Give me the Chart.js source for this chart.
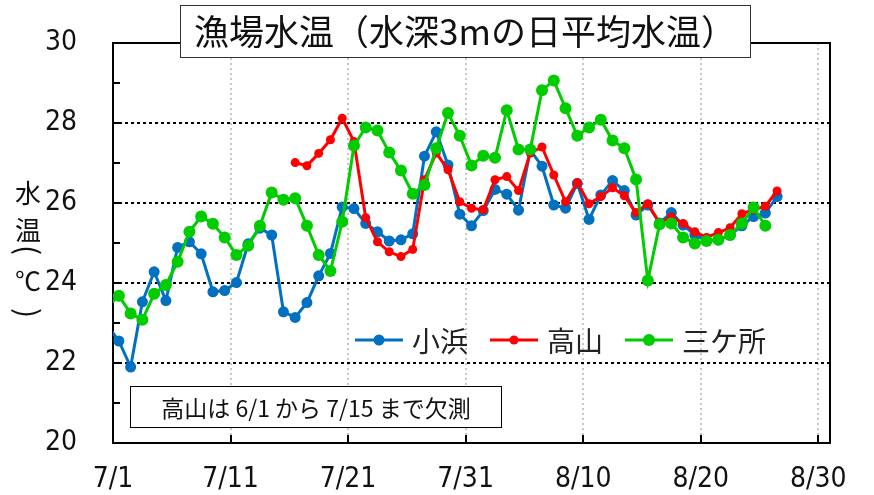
<!DOCTYPE html>
<html>
<head>
<meta charset="utf-8">
<script src="https://cdn.jsdelivr.net/npm/chart.js@4.4.1/dist/chart.umd.min.js"></script>
<style>
html,body{margin:0;padding:0;background:#fff;}
#wrap{width:874px;height:495px;position:relative;}
</style>
</head>
<body>
<div id="wrap"><canvas id="c" width="874" height="495"></canvas></div>
<script>
// Dates (index 0 = 6/30, index 1 = 7/1 ...)
const dates = [
 "6/30",
 "7/1","7/2","7/3","7/4","7/5","7/6","7/7","7/8","7/9","7/10",
 "7/11","7/12","7/13","7/14","7/15","7/16","7/17","7/18","7/19","7/20",
 "7/21","7/22","7/23","7/24","7/25","7/26","7/27","7/28","7/29","7/30","7/31",
 "8/1","8/2","8/3","8/4","8/5","8/6","8/7","8/8","8/9","8/10",
 "8/11","8/12","8/13","8/14","8/15","8/16","8/17","8/18","8/19","8/20",
 "8/21","8/22","8/23","8/24","8/25","8/26"
];
// 小浜
const obama = [
 22.95,
 22.55,21.90,23.53,24.28,23.56,24.89,25.03,24.73,23.78,23.81,
 24.01,24.98,25.37,25.20,23.28,23.14,23.51,24.18,24.74,25.90,
 25.86,25.49,25.28,25.05,25.08,25.23,27.17,27.78,26.95,25.72,25.43,
 25.81,26.34,26.22,25.82,27.32,26.92,25.95,25.87,26.49,25.59,
 26.20,26.56,26.31,25.70,25.95,25.50,25.76,25.45,25.20,25.06,
 25.08,25.20,25.43,25.66,25.75,26.16
];
// 高山 (6/1〜7/15 欠測)
const takayama = [
 null,
 null,null,null,null,null,null,null,null,null,null,
 null,null,null,null,null,27.01,26.93,27.24,27.58,28.12,
 27.54,25.63,25.03,24.78,24.66,24.84,26.58,27.25,26.83,26.03,25.87,
 25.83,26.58,26.66,26.31,27.25,27.40,26.70,26.03,26.51,25.98,
 26.16,26.38,26.18,25.76,25.98,25.50,25.65,25.49,25.28,25.14,
 25.26,25.38,25.73,25.83,25.92,26.30
];
// 三ケ所
const sangasho = [
 23.40,
 23.68,23.24,23.08,23.73,23.95,24.53,25.28,25.66,25.48,25.14,
 24.70,24.93,25.43,26.26,26.08,26.12,25.43,24.70,24.30,25.53,
 27.43,27.89,27.81,27.26,26.81,26.23,26.45,27.37,28.25,27.68,26.94,
 27.18,27.13,28.32,27.34,27.34,28.82,29.06,28.37,27.68,27.89,
 28.08,27.56,27.37,26.59,24.06,25.47,25.49,25.14,24.99,25.05,
 25.08,25.20,25.49,25.89,25.43,null
];
const xTickLabels = ["7/1","7/11","7/21","7/31","8/10","8/20","8/30"];
const xTickValues = [0,10,20,30,40,50,60];
const yTickValues = [20,22,24,26,28,30];
const seriesNames = ["小浜","高山","三ケ所"];
const titleText = "漁場水温（水深3mの日平均水温）";
const noteText = "高山は 6/1 から 7/15 まで欠測";

const COLORS = {obama:"#0070C0", takayama:"#FF0000", sangasho:"#00CC00"};
const toXY = arr => arr.map((v,i)=>({x:i-0.5, y:v}));

const JP = "'Noto Sans CJK JP','Noto Sans',sans-serif";
const NUM = "'Liberation Sans Narrow','DejaVu Sans Condensed','Liberation Sans',sans-serif";

const decor = {
  id:'decor',
  beforeDraw(chart){
    const c=chart.ctx; c.save(); c.fillStyle='#fff'; c.fillRect(0,0,chart.width,chart.height); c.restore();
  },
  beforeDatasetsDraw(chart){
    const c=chart.ctx, a=chart.chartArea, xs=chart.scales.x, ys=chart.scales.y;
    c.save();
    c.strokeStyle='#c8c8c8'; c.lineWidth=2; c.setLineDash([2,3]);
    xTickValues.forEach(v=>{ if(v===0) return; const x=Math.round(xs.getPixelForValue(v));
      c.beginPath(); c.moveTo(x,a.top); c.lineTo(x,a.bottom); c.stroke(); });
    c.strokeStyle='#000'; c.lineWidth=2; c.setLineDash([3,3]);
    yTickValues.forEach(v=>{ if(v===20||v===30) return; const y=Math.round(ys.getPixelForValue(v));
      c.beginPath(); c.moveTo(a.left,y); c.lineTo(a.right,y); c.stroke(); });
    c.setLineDash([]);
    c.lineWidth=2;
    for(let v=21; v<30; v++){ const y=Math.round(ys.getPixelForValue(v));
      c.beginPath(); c.moveTo(a.left,y); c.lineTo(a.left+7,y); c.stroke(); }
    xTickValues.forEach(v=>{ if(v===0) return; const x=Math.round(xs.getPixelForValue(v));
      c.beginPath(); c.moveTo(x,a.bottom); c.lineTo(x,a.bottom-8); c.stroke(); });
    c.lineWidth=2; c.strokeStyle='#000';
    c.strokeRect(a.left,a.top,a.right-a.left,a.bottom-a.top);
    c.restore();
  },
  afterDatasetsDraw(chart){
    const c=chart.ctx;
    c.save();
    const items=[
      {name:seriesNames[0], col:COLORS.obama, x:355, r:5.5},
      {name:seriesNames[1], col:COLORS.takayama, x:490, r:4.5},
      {name:seriesNames[2], col:COLORS.sangasho, x:625, r:6}
    ];
    const ly=340;
    items.forEach(it=>{
      c.strokeStyle=it.col; c.lineWidth=3;
      c.beginPath(); c.moveTo(it.x,ly); c.lineTo(it.x+48,ly); c.stroke();
      c.fillStyle=it.col; c.beginPath(); c.arc(it.x+24,ly,it.r,0,Math.PI*2); c.fill();
      c.fillStyle='#222'; c.font='28px '+JP; c.textBaseline='middle'; c.textAlign='left';
      c.fillText(it.name, it.x+57, ly+1);
    });
    c.fillStyle='#fff'; c.fillRect(130,386,372,42);
    c.strokeStyle='#000'; c.lineWidth=1; c.strokeRect(130.5,386.5,371,41);
    c.fillStyle='#111'; c.font='23px '+JP; c.textAlign='center'; c.textBaseline='middle';
    c.fillText(noteText, 316, 408);
    c.fillStyle='#fff'; c.fillRect(180,5,571,53);
    c.strokeStyle='#333'; c.lineWidth=1; c.strokeRect(180.5,5.5,570,52);
    c.fillStyle='#111'; c.font='35px '+JP; c.textAlign='center'; c.textBaseline='middle';
    c.fillText(titleText, 465, 32);
    // y axis title (vertical)
    c.font='26px '+JP; c.fillStyle='#111'; c.textAlign='center'; c.textBaseline='middle';
    c.fillText("水",28,193);
    c.fillText("温",28,230);
    c.fillText("℃",28,281);
    c.font='30px '+JP;
    const rot=(t,y)=>{ c.save(); c.translate(28,y); c.rotate(Math.PI/2); c.fillText(t,0,0); c.restore(); };
    rot("(",250);
    rot(")",313);
    c.restore();
  }
};

new Chart(document.getElementById('c'),{
  type:'line',
  data:{
    datasets:[
      {label:seriesNames[0], data:toXY(obama), borderColor:COLORS.obama, backgroundColor:COLORS.obama,
       borderWidth:3, pointRadius:5.5, pointBorderWidth:0, pointHoverRadius:5.5, order:2, spanGaps:false},
      {label:seriesNames[1], data:toXY(takayama), borderColor:COLORS.takayama, backgroundColor:COLORS.takayama,
       borderWidth:3, pointRadius:4.5, pointBorderWidth:0, pointHoverRadius:4.5, order:1, spanGaps:false},
      {label:seriesNames[2], data:toXY(sangasho), borderColor:COLORS.sangasho, backgroundColor:COLORS.sangasho,
       borderWidth:3, pointRadius:6, pointBorderWidth:0, pointHoverRadius:6, order:0, spanGaps:false}
    ]
  },
  options:{
    responsive:false, animation:false, devicePixelRatio:1,
    layout:{padding:{top:43,right:44,left:0,bottom:0}},
    plugins:{legend:{display:false}, title:{display:false}, tooltip:{enabled:false}},
    elements:{line:{tension:0}},
    scales:{
      x:{type:'linear', min:0, max:61,
         grid:{display:false, drawTicks:false}, border:{display:false},
         afterBuildTicks:s=>{ s.ticks = xTickValues.map(v=>({value:v})); },
         afterFit:s=>{ s.height = 52; s.paddingLeft=0; s.paddingRight=0; },
         ticks:{autoSkip:false, maxRotation:0, padding:20, color:'#111',
           font:{family:NUM, size:28},
           callback:(v)=>{ const i=xTickValues.indexOf(v); return i>=0?xTickLabels[i]:''; }}
      },
      y:{type:'linear', min:20, max:30,
         grid:{display:false, drawTicks:false}, border:{display:false},
         afterBuildTicks:s=>{ s.ticks = yTickValues.map(v=>({value:v})); },
         afterFit:s=>{ s.width = 113; s.paddingTop=0; s.paddingBottom=0; },
         ticks:{padding:36, color:'#111', font:{family:NUM, size:28}}
      }
    }
  },
  plugins:[decor]
});
</script>
</body>
</html>
